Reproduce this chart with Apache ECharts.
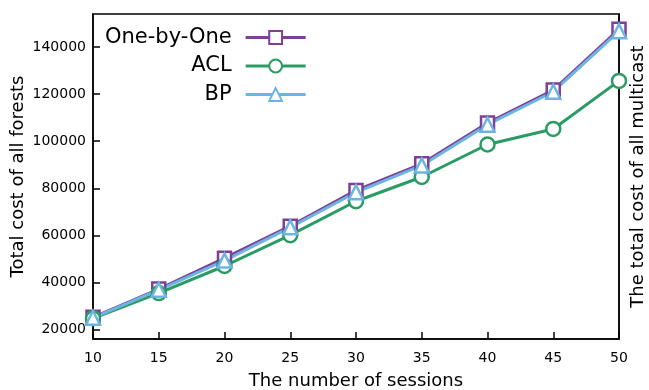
<!DOCTYPE html>
<html>
<head>
<meta charset="utf-8">
<script src="https://cdn.jsdelivr.net/npm/echarts@6/dist/echarts.min.js"></script>
<style>
  html, body { margin: 0; padding: 0; background: #fff; }
  #main { width: 649px; height: 390px; }
</style>
</head>
<body>
<div id="main"></div>
<script>
var myChart = echarts.init(document.getElementById("main"));

const sessions = [10, 15, 20, 25, 30, 35, 40, 45, 50];
const oneByOne = [25200, 37200, 50300, 63900, 79100, 90400, 107700, 121700, 147500];
const acl = [24800, 35500, 47000, 60100, 74500, 84800, 98600, 105200, 125600];
const bp = [25000, 36900, 49300, 63400, 78300, 89700, 107000, 121000, 146700];
const yTicks = [20000, 40000, 60000, 80000, 100000, 120000, 140000];

const font = "DejaVu Sans";

function pairs(vals) {
  return sessions.map((s, i) => [s, vals[i]]);
}

function makeSeries(name, vals, color, symbol, size) {
  return {
    name: name,
    type: "line",
    data: pairs(vals),
    symbol: symbol,
    symbolSize: size,
    showAllSymbol: true,
    lineStyle: { color: color, width: 3 },
    itemStyle: { color: "#fff", borderColor: color, borderWidth: 2.5 },
    emphasis: { disabled: true },
  };
}

option = {
  animation: false,
  textStyle: { fontFamily: font },
  grid: {
    left: 93, right: 30, top: 14, bottom: 51,
    containLabel: false, outerBoundsMode: "none",
    show: true, borderColor: "#000", borderWidth: 1.5,
  },
  legend: {
    orient: "vertical",
    left: 100,
    top: 22,
    align: "right",
    itemWidth: 60,
    itemHeight: 16,
    itemGap: 7.5,
    lineStyle: { width: 3 },
    textStyle: { fontFamily: font, fontSize: 21, color: "#000", width: 138, align: "right", padding: [0, 9, 0, 0] },
    data: ["One-by-One", "ACL", "BP"],
  },
  xAxis: {
    type: "value",
    min: 10,
    max: 50,
    interval: 5,
    name: "The number of sessions",
    nameLocation: "middle",
    nameGap: 33,
    nameMoveOverlap: false,
    nameTextStyle: { fontFamily: font, fontSize: 18, color: "#000" },
    axisLine: { lineStyle: { color: "#000", width: 1.5 } },
    axisTick: { inside: true, length: 7, lineStyle: { color: "#000", width: 1.5 } },
    axisLabel: { fontFamily: font, fontSize: 14, color: "#000", margin: 12 },
    splitLine: { show: false },
  },
  yAxis: [
    {
      type: "value",
      min: 16000,
      max: 154000,
      name: "Total cost of all forests",
      nameLocation: "middle",
      nameGap: 66,
      nameMoveOverlap: false,
      nameTextStyle: { fontFamily: font, fontSize: 18, color: "#000" },
      axisLine: { show: true, lineStyle: { color: "#000", width: 1.5 } },
      axisTick: { show: true, inside: true, length: 7, customValues: yTicks, lineStyle: { color: "#000", width: 1.5 } },
      axisLabel: {
        fontFamily: font, fontSize: 14, color: "#000", margin: 7, customValues: yTicks,
        formatter: (v) => String(v),
      },
      splitLine: { show: false },
    },
    {
      type: "value",
      position: "right",
      min: 16000,
      max: 154000,
      name: "The total cost of all multicast",
      nameLocation: "middle",
      nameRotate: 90,
      nameGap: 10,
      nameTextStyle: { fontFamily: font, fontSize: 18, color: "#000" },
      axisLine: { show: true, lineStyle: { color: "#000", width: 1.5 } },
      axisTick: { show: false },
      axisLabel: { show: false },
      splitLine: { show: false },
    },
  ],
  series: [
    makeSeries("One-by-One", oneByOne, "#7d3f98", "rect", 13),
    makeSeries("ACL", acl, "#2a9b63", "circle", 14),
    makeSeries("BP", bp, "#6cb5e3", "triangle", 14),
  ],
};

myChart.setOption(option);
</script>
</body>
</html>
